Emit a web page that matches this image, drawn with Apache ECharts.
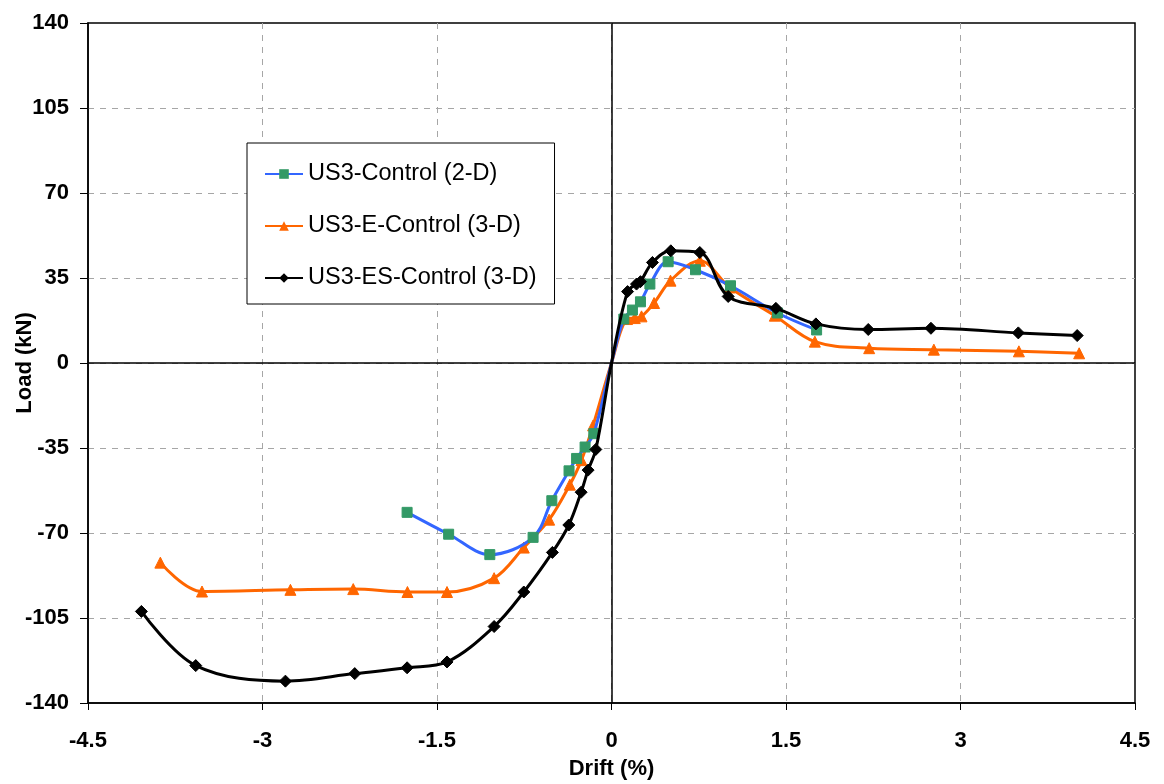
<!DOCTYPE html>
<html>
<head>
<meta charset="utf-8">
<script src="https://cdn.jsdelivr.net/npm/echarts@6/dist/echarts.min.js"></script>
<style>html,body{margin:0;padding:0;background:#fff}#c{width:1164px;height:784px}</style>
</head>
<body>
<div id="c"></div>
<script>
// Series names
const seriesNames = ['US3-Control (2-D)', 'US3-E-Control (3-D)', 'US3-ES-Control (3-D)'];

// US3-Control (2-D)
const us3Drift = [-1.757, -1.40, -1.046, -0.674, -0.513, -0.365, -0.30, -0.227, -0.152, 0, 0.106, 0.18, 0.249, 0.33, 0.487, 0.722, 1.023, 1.427, 1.763];
const us3Load  = [-61.5, -70.5, -78.9, -71.8, -56.7, -44.4, -39.3, -34.6, -29.1, 0, 18.1, 21.8, 25.2, 32.5, 41.7, 38.4, 31.8, 20.6, 13.6];

// US3-E-Control (3-D)
const usEDrift = [-3.878, -3.52, -2.76, -2.22, -1.754, -1.414, -1.009, -0.754, -0.536, -0.358, -0.258, -0.158, 0, 0.134, 0.2, 0.258, 0.366, 0.507, 0.759, 1.017, 1.404, 1.748, 2.215, 2.771, 3.502, 4.02];
const usELoad  = [-82.2, -94.1, -93.4, -93.1, -94.3, -94.3, -88.6, -76.0, -64.5, -50.1, -40.0, -25.7, 0, 18.1, 18.5, 19.2, 24.7, 33.9, 42.1, 31.1, 19.5, 8.8, 6.1, 5.5, 4.8, 4.0];

// US3-ES-Control (3-D)
const usESDrift = [-4.041, -3.574, -2.803, -2.207, -1.757, -1.414, -1.009, -0.754, -0.508, -0.367, -0.261, -0.201, -0.135, 0, 0.138, 0.215, 0.249, 0.352, 0.51, 0.759, 1.003, 1.413, 1.757, 2.207, 2.746, 3.497, 4.003];
const usESLoad  = [-102.3, -124.6, -131.0, -127.9, -125.5, -123.1, -108.5, -94.3, -78.0, -66.7, -53.2, -44.1, -35.6, 0, 29.4, 32.5, 33.5, 41.4, 46.2, 45.5, 27.4, 22.5, 16.1, 13.8, 14.3, 12.4, 11.3];

// Axis settings
const xMin = -4.5, xMax = 4.5, xStep = 1.5;
const yMin = -140, yMax = 140, yStep = 35;

const FONT = "'Liberation Sans', Arial, sans-serif";

function pts(xs, ys) {
  return xs.map((x, i) => {
    if (x === 0 && ys[i] === 0) return { value: [x, ys[i]], symbol: 'none' };
    return [x, ys[i]];
  });
}

const chart = echarts.init(document.getElementById('c'), null, { renderer: 'canvas' });
chart.setOption({
  animation: false,
  backgroundColor: '#fff',
  grid: { left: 88, right: 29, top: 23, bottom: 81, show: true, borderColor: '#000', borderWidth: 1.5, backgroundColor: 'transparent', containLabel: false, outerBoundsMode: 'none' },
  legend: {
    orient: 'vertical', left: 247, top: 143,
    padding: [19, 18, 14, 17], itemGap: 28, itemWidth: 38, itemHeight: 12,
    borderColor: '#000', borderWidth: 1, backgroundColor: '#fff',
    textStyle: { fontFamily: FONT, fontSize: 23.5, color: '#000' },
    data: seriesNames
  },
  xAxis: {
    type: 'value', min: xMin, max: xMax, interval: xStep,
    name: 'Drift (%)', nameLocation: 'middle', nameGap: 55, nameMoveOverlap: false,
    nameTextStyle: { fontFamily: FONT, fontSize: 22, fontWeight: 'bold', color: '#000' },
    axisLine: { onZero: false, lineStyle: { color: '#000', width: 1.5 } },
    axisTick: { show: true, inside: false, length: 7, lineStyle: { color: '#000', width: 1 } },
    axisLabel: { margin: 27, fontFamily: FONT, fontSize: 22, fontWeight: 'bold', color: '#000' },
    splitLine: { show: true, showMinLine: false, showMaxLine: false, lineStyle: { color: '#a6a6a6', type: [6, 6], width: 1 } }
  },
  yAxis: {
    type: 'value', min: yMin, max: yMax, interval: yStep,
    name: 'Load (kN)', nameLocation: 'middle', nameGap: 52, nameMoveOverlap: false,
    nameTextStyle: { fontFamily: FONT, fontSize: 22, fontWeight: 'bold', color: '#000' },
    axisLine: { onZero: false, lineStyle: { color: '#000', width: 1.5 } },
    axisTick: { show: true, inside: false, length: 8, lineStyle: { color: '#000', width: 1 } },
    axisLabel: { margin: 19, fontFamily: FONT, fontSize: 22, fontWeight: 'bold', color: '#000' },
    splitLine: { show: true, showMinLine: false, showMaxLine: false, lineStyle: { color: '#a6a6a6', type: [6, 6], width: 1 } }
  },
  series: [
    {
      name: seriesNames[0], type: 'line', smooth: 0.35, data: pts(us3Drift, us3Load),
      symbol: 'rect', symbolSize: 10, z: 4,
      lineStyle: { color: '#3366ff', width: 3 },
      itemStyle: { color: '#339966', borderColor: '#339966' },
      markLine: {
        silent: true, symbol: 'none', label: { show: false },
        lineStyle: { color: '#000', type: 'solid', width: 1.5 },
        data: [{ xAxis: 0 }, { yAxis: 0 }]
      }
    },
    {
      name: seriesNames[1], type: 'line', smooth: 0.35, data: pts(usEDrift, usELoad),
      symbol: 'triangle', symbolSize: 11, z: 3,
      lineStyle: { color: '#ff6600', width: 3 },
      itemStyle: { color: '#ff6600', borderColor: '#ff6600' }
    },
    {
      name: seriesNames[2], type: 'line', smooth: 0.35, data: pts(usESDrift, usESLoad),
      symbol: 'diamond', symbolSize: 12, z: 5,
      lineStyle: { color: '#000', width: 3 },
      itemStyle: { color: '#000', borderColor: '#000' }
    }
  ]
});
</script>
</body>
</html>
